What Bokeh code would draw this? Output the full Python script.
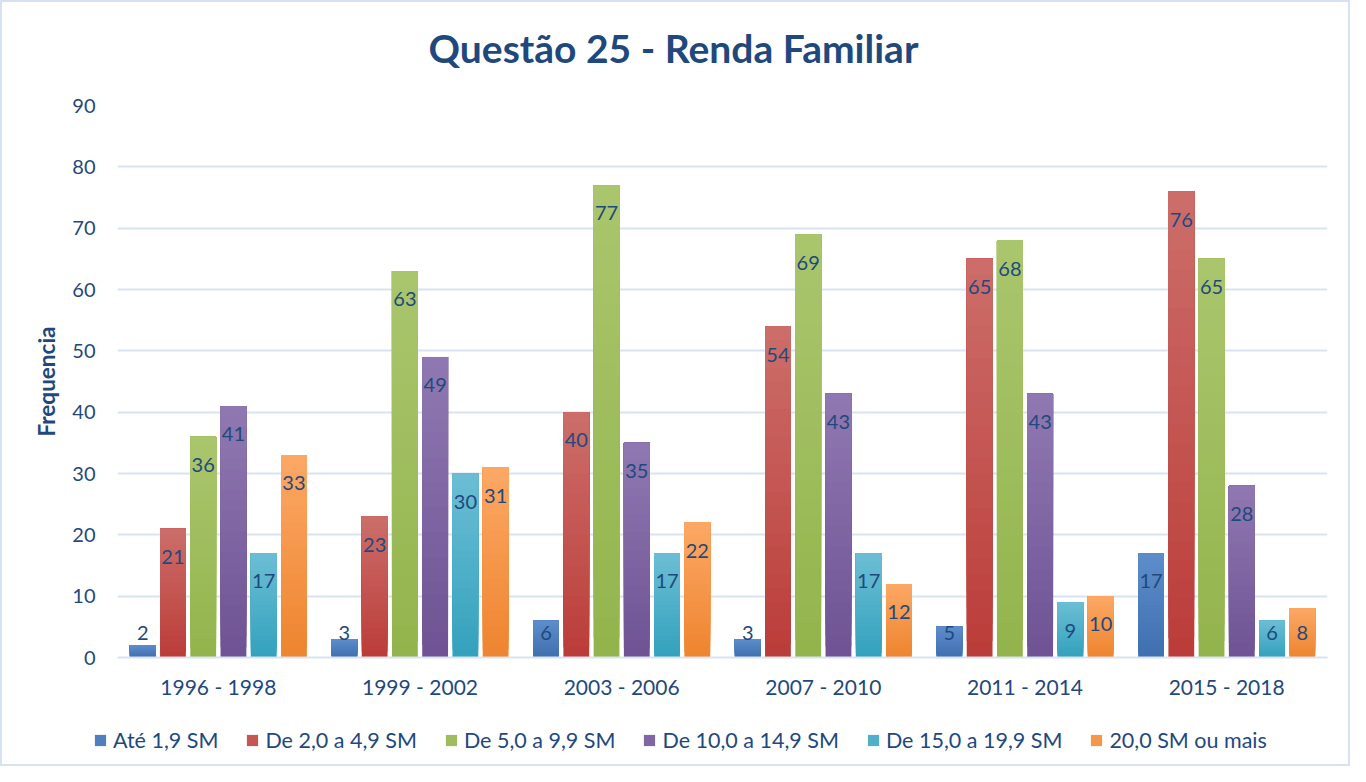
from bokeh.plotting import figure
from bokeh.models import ColumnDataSource, Range1d, FactorRange, Legend, LegendItem, Label
from bokeh.transform import dodge
from bokeh.embed import file_html
from bokeh.resources import INLINE

periods = ["1996 - 1998", "1999 - 2002", "2003 - 2006", "2007 - 2010", "2011 - 2014", "2015 - 2018"]
series_names = ["Até 1,9 SM", "De 2,0 a 4,9 SM", "De 5,0 a 9,9 SM", "De 10,0 a 14,9 SM", "De 15,0 a 19,9 SM", "20,0 SM ou mais"]
ate_1_9 = [2, 3, 6, 3, 5, 17]
de_2_4_9 = [21, 23, 40, 54, 65, 76]
de_5_9_9 = [36, 63, 77, 69, 68, 65]
de_10_14_9 = [41, 49, 35, 43, 43, 28]
de_15_19_9 = [17, 30, 17, 17, 9, 6]
mais_20 = [33, 31, 22, 12, 10, 8]
series_values = [ate_1_9, de_2_4_9, de_5_9_9, de_10_14_9, de_15_19_9, mais_20]
y_ticks = [0, 10, 20, 30, 40, 50, 60, 70, 80, 90]
chart_title = "Questão 25 - Renda Familiar"

# gradient colours (top, bottom) per series
top_colors = ["#5E8DCB", "#CC6E6A", "#ABC66E", "#9079B2", "#6CBED4", "#FCA865"]
bottom_colors = ["#3F6FAF", "#BB3C39", "#92B44C", "#6E5293", "#33A1BD", "#EE842F"]
offsets = [-0.375, -0.225, -0.075, 0.075, 0.225, 0.375]

TEXT = "#1F497D"
GRID = "#D9E3F1"
BORDER = "2px solid #D6E2F1"
FONT = "Lato"
N = 24


def hex_to_rgb(h):
    h = h.lstrip("#")
    return tuple(int(h[i:i + 2], 16) for i in (0, 2, 4))


def mix(c1, c2, t):
    a, b = hex_to_rgb(c1), hex_to_rgb(c2)
    return "#%02x%02x%02x" % tuple(round(a[i] + (b[i] - a[i]) * t) for i in range(3))


# ---- title strip ----
tfig = figure(width=1350, height=93, x_range=Range1d(0, 1350), y_range=Range1d(0, 93),
              output_backend="svg", toolbar_location=None, x_axis_type=None, y_axis_type=None,
              min_border_left=0, min_border_right=0, min_border_top=0, min_border_bottom=0)
tfig.styles = {"border-top": BORDER, "border-left": BORDER, "border-right": BORDER,
               "box-sizing": "border-box"}
tfig.outline_line_color = None
tfig.xgrid.grid_line_color = None
tfig.ygrid.grid_line_color = None
tfig.add_layout(Label(x=671, y=48, text=chart_title, text_align="center",
                      text_baseline="alphabetic", text_font=FONT, text_font_style="bold",
                      text_font_size="39px", text_color=TEXT))

# ---- main chart ----
p = figure(x_range=FactorRange(*periods, range_padding=0), y_range=Range1d(0, 90),
           width=1350, height=617, output_backend="svg", toolbar_location=None,
           min_border_left=115, min_border_right=25, min_border_top=12, min_border_bottom=53)
p.x_range.range_padding = 0
p.styles = {"border-left": BORDER, "border-right": BORDER, "box-sizing": "border-box"}

p.outline_line_color = None
p.background_fill_color = "white"
p.border_fill_color = "white"

p.ygrid.grid_line_color = GRID
p.ygrid.grid_line_width = 2
p.xgrid.grid_line_color = None

p.yaxis.ticker = y_ticks
p.yaxis.axis_line_color = None
p.yaxis.major_tick_line_color = None
p.yaxis.minor_tick_line_color = None
p.yaxis.major_tick_out = 0
p.yaxis.minor_tick_out = 0
p.yaxis.major_label_text_font = FONT
p.yaxis.major_label_text_font_size = "20px"
p.yaxis.major_label_text_color = TEXT
p.yaxis.major_label_standoff = 22
p.yaxis.axis_label = "Frequencia"
p.yaxis.axis_label_text_font = FONT
p.yaxis.axis_label_text_font_style = "bold"
p.yaxis.axis_label_text_font_size = "22.5px"
p.yaxis.axis_label_text_color = TEXT
p.yaxis.axis_label_standoff = 9

p.xaxis.axis_line_color = GRID
p.xaxis.axis_line_width = 2
p.xaxis.major_tick_line_color = None
p.xaxis.minor_tick_line_color = None
p.xaxis.major_tick_out = 0
p.xaxis.minor_tick_out = 0
p.xaxis.major_label_text_font = FONT
p.xaxis.major_label_text_font_size = "21px"
p.xaxis.major_label_text_color = TEXT
p.xaxis.major_label_standoff = 16

# ---- legend strip (its bars lie far outside its visible y range) ----
leg = figure(x_range=p.x_range, y_range=Range1d(1000, 1001), width=1350, height=56,
             output_backend="svg", toolbar_location=None, x_axis_type=None, y_axis_type=None,
             min_border_left=0, min_border_right=0, min_border_top=4, min_border_bottom=0)
leg.styles = {"border-bottom": BORDER, "border-left": BORDER, "border-right": BORDER,
              "box-sizing": "border-box"}
leg.outline_line_color = None
leg.xgrid.grid_line_color = None
leg.ygrid.grid_line_color = None

items = []
for s, vals in enumerate(series_values):
    xs, bottoms, tops, colors = [], [], [], []
    for per, v in zip(periods, vals):
        for k in range(N):
            xs.append(per)
            bottoms.append(v * k / N)
            tops.append(v)
            colors.append(mix(bottom_colors[s], top_colors[s], (k + 0.5) / N))
    src = ColumnDataSource(dict(period=xs, bottom=bottoms, top=tops, color=colors))
    p.vbar(x=dodge("period", offsets[s], range=p.x_range), bottom="bottom", top="top",
           width=0.128, fill_color="color", line_color=None, source=src)
    r = leg.vbar(x=dodge("period", offsets[s], range=p.x_range), bottom="bottom", top="top",
                 width=0.128, fill_color="color", line_color=None, source=src)
    items.append(LegendItem(label=series_names[s], renderers=[r], index=N // 2))

    lab_y = [max(v - 4.6, 4.0) for v in vals]
    lsrc = ColumnDataSource(dict(period=periods, y=lab_y, t=[str(v) for v in vals]))
    p.text(x=dodge("period", offsets[s], range=p.x_range), y="y", text="t", source=lsrc,
           text_align="center", text_baseline="middle", text_font_size="20px",
           text_color=TEXT, text_font={"value": FONT})

legend = Legend(items=items, orientation="horizontal", location="center_left")
legend.label_text_font = FONT
legend.label_text_font_size = "21.5px"
legend.label_text_color = TEXT
legend.label_text_baseline = "middle"
legend.glyph_width = 14
legend.glyph_height = 14
legend.label_standoff = 6
legend.spacing = 27
legend.border_line_color = None
legend.background_fill_alpha = 0
legend.margin = 91
legend.padding = 0
leg.add_layout(legend, "center")

open("out.html", "w").write(file_html([tfig, p, leg], INLINE))
